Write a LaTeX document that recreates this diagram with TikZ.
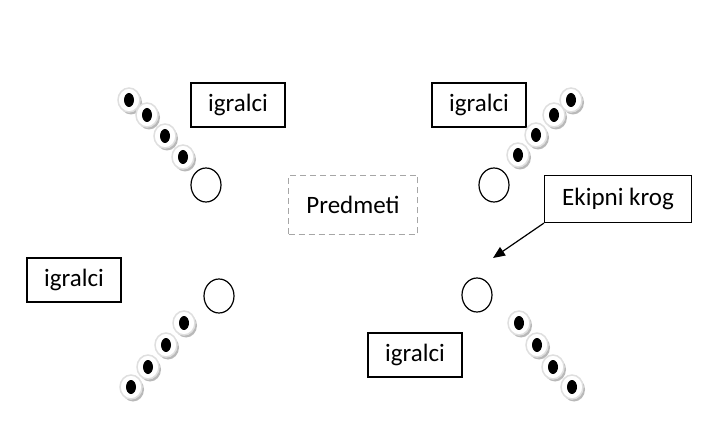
\documentclass[tikz,border=0pt]{standalone}
\usepackage{fontspec}
\setmainfont{Carlito}
\usetikzlibrary{shapes.geometric,arrows.meta}

\begin{document}
\begin{tikzpicture}[x=1pt, y=-1pt,
    label box/.style = {draw, line width=1.2pt, minimum width=94pt, minimum height=44pt, inner sep=0pt, font=\fontsize{25}{30}\selectfont},
    ring/.style = {draw, ellipse, line width=1.2pt, minimum width=30pt, minimum height=34pt, inner sep=0pt},
    player/.style = {ellipse, fill=white, draw=gray!25, line width=1.5pt, minimum width=22pt, minimum height=24pt, inner sep=0pt}]
    \useasboundingbox (0,0) rectangle (712,446);

    % Team boxes
    \node[label box] (igA) at (238,105) {igralci};
    \node[label box] (igB) at (479,105) {igralci};
    \node[label box] (igC) at (74,280) {igralci};
    \node[label box] (igD) at (415,355) {igralci};

    % Objects in the middle
    \node[label box, draw=gray!70, dashed, dash pattern=on 6pt off 4pt, minimum width=129pt, minimum height=59pt] (predmeti) at (353,205) {Predmeti};

    % Team circles
    \node[ring] (krogA) at (206,185) {};
    \node[ring] (krogB) at (494,185) {};
    \node[ring] (krogC) at (219,296) {};
    \node[ring] (krogD) at (477,295) {};

    % Callout
    \node[label box, minimum width=147pt, minimum height=47pt] (ekipni) at (618,199) {Ekipni krog};
    \coordinate (tip) at (493,258);
    \draw[line width=1.2pt, -{Triangle[length=12pt,width=10pt]}] (ekipni.south west) -- (tip);

    % Players
    \foreach \n/\x/\y in {a1/129/100, a2/147/115, a3/165/136, a4/183/157,
                          b1/571/100, b2/554/115, b3/536/135, b4/518/155,
                          c1/184/323, c2/166/345, c3/148/367, c4/131/387,
                          d1/519/323, d2/537/345, d3/553/367, d4/572/387} {
        \fill[gray!55] (\x+2,\y+2.5) ellipse (11pt and 12pt);
        \node[player] (\n) at (\x,\y) {};
        \fill[black] (\n) ellipse (5pt and 7pt);
    }
\end{tikzpicture}
\end{document}
